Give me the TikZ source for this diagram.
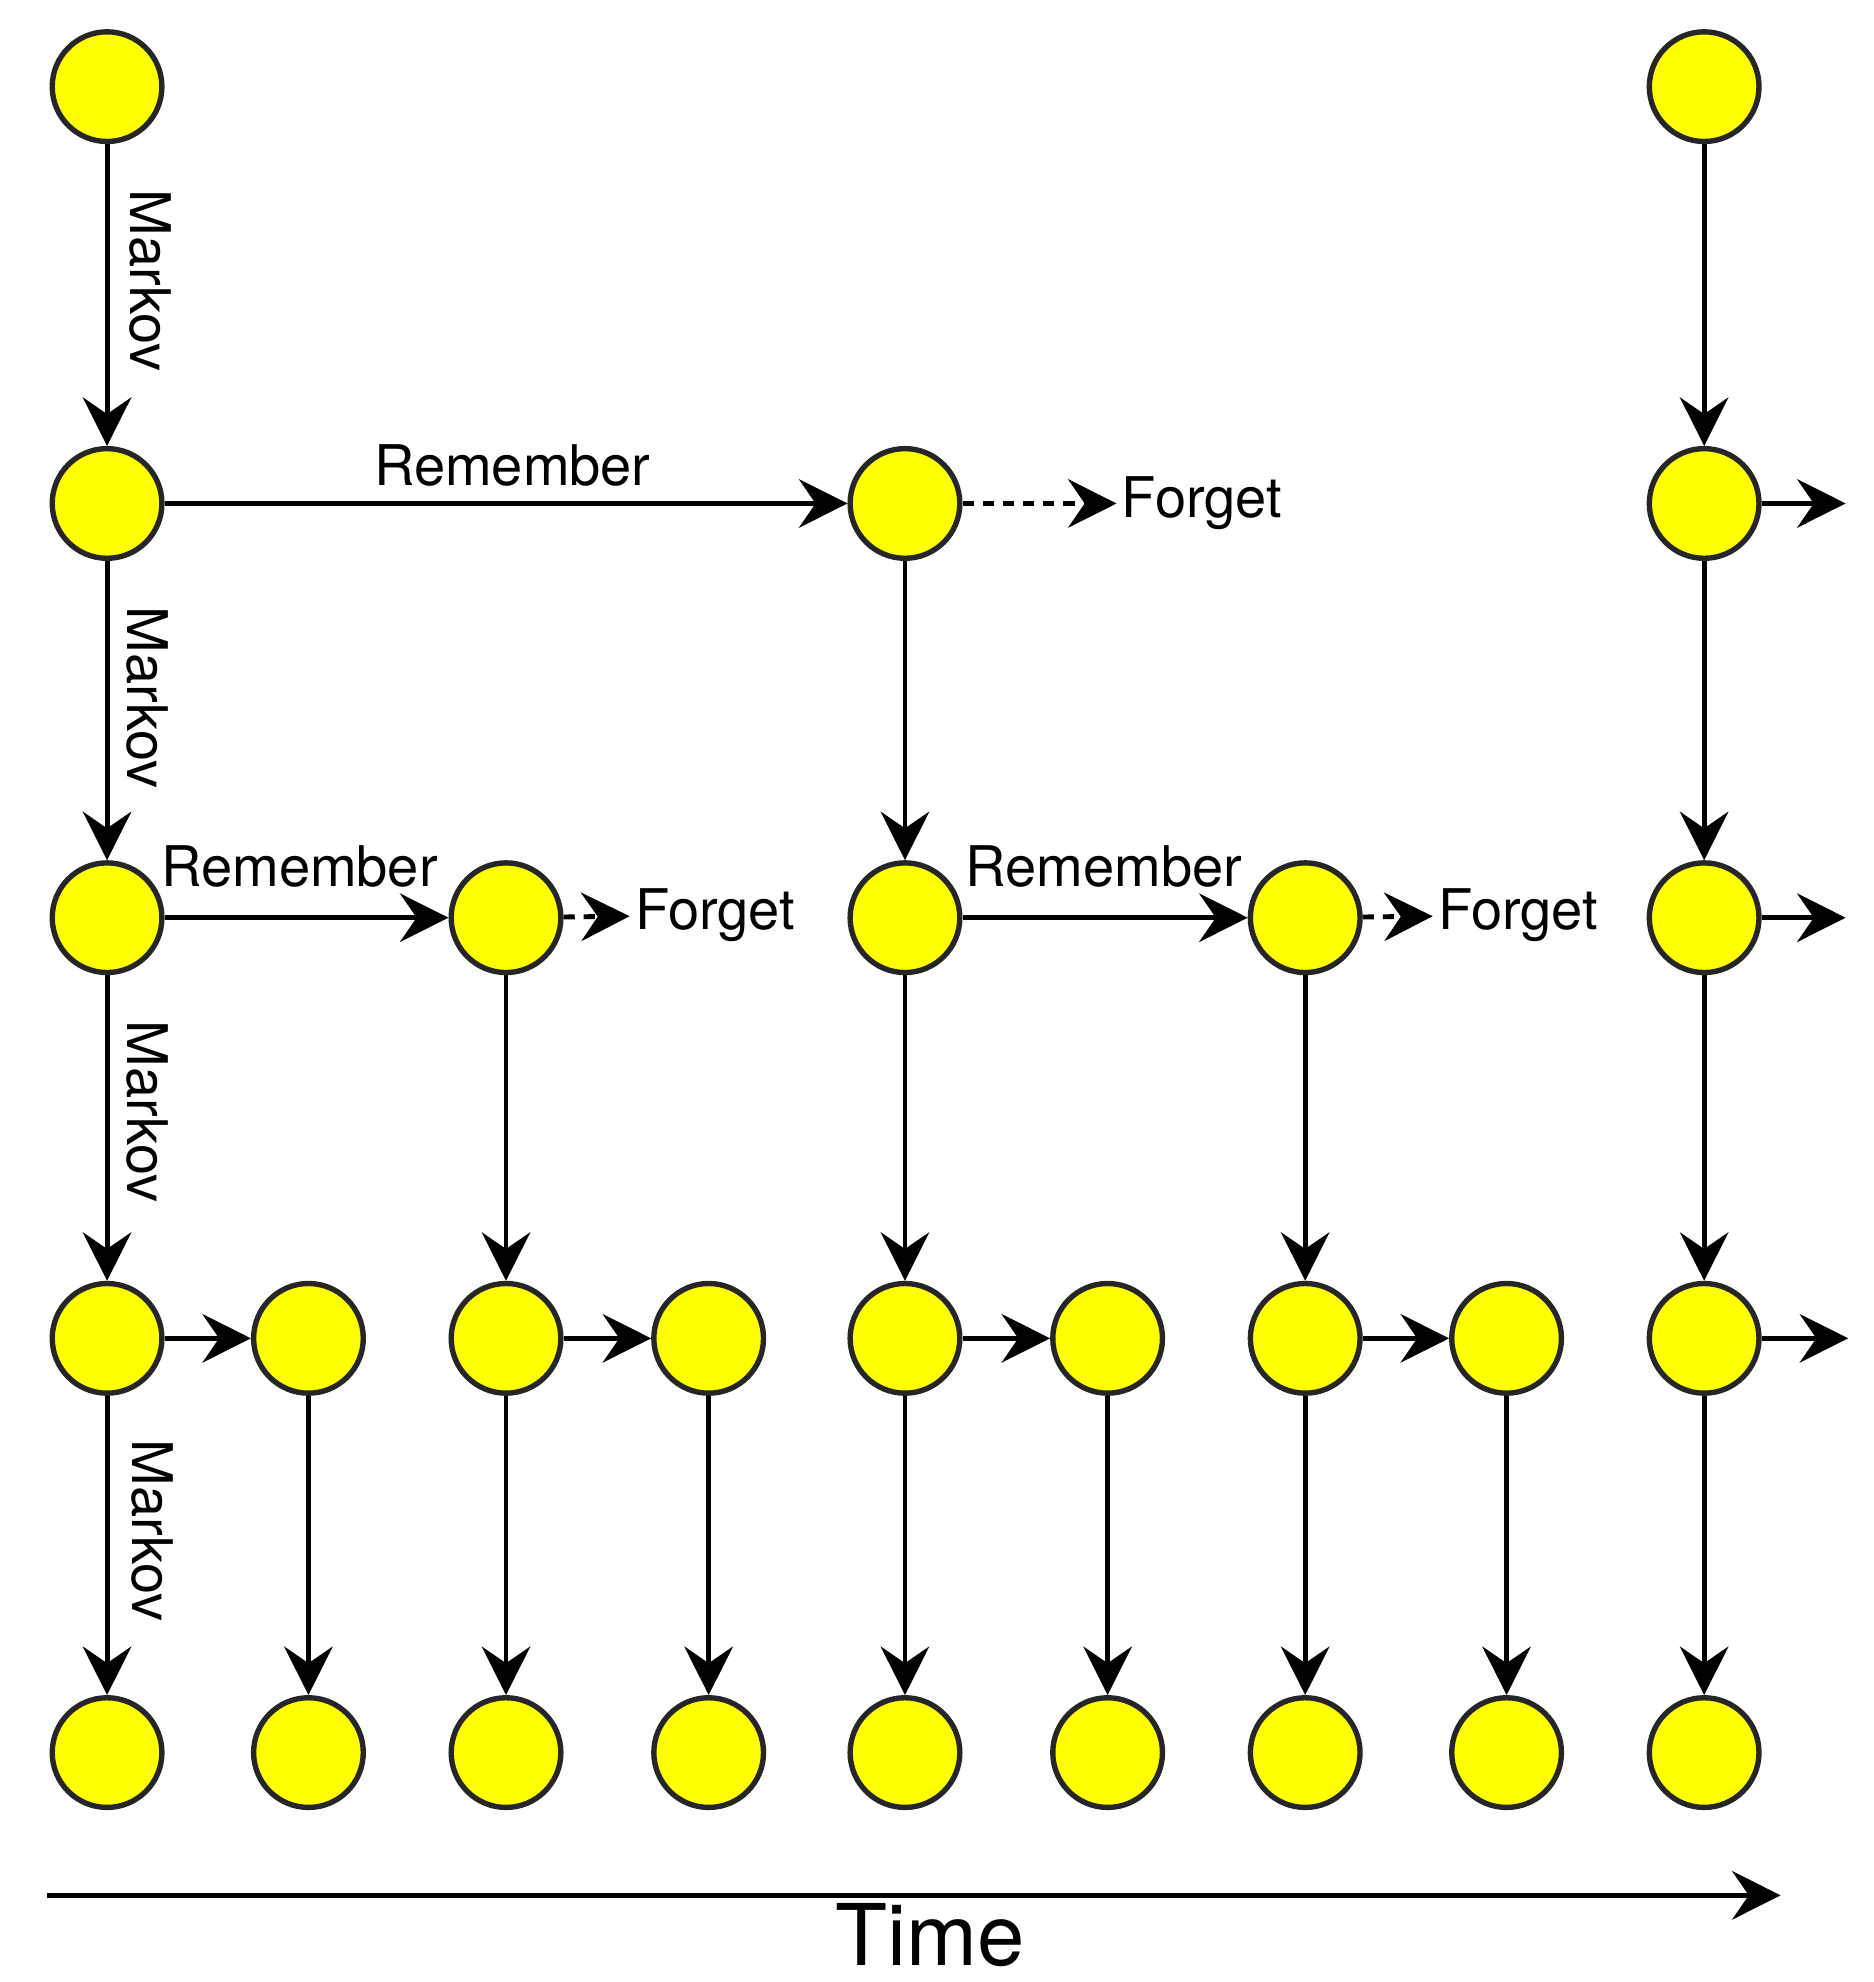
\documentclass[tikz,border=0pt]{standalone}
\usepackage{fontspec}
\setmainfont{TeX Gyre Heros}
\usetikzlibrary{arrows.meta}
\definecolor{nodeyellow}{RGB}{255,255,0}
\tikzset{
  state/.style={circle,draw=black!85,line width=1.2pt,fill=nodeyellow,minimum size=0.86cm,inner sep=0pt},
  flow/.style={line width=1.1pt,-{Stealth[length=0.38cm,width=0.38cm,inset=0.13cm]}},
  forget/.style={flow,dash pattern=on 2.5pt off 2pt},
  lbl/.style={font=\fontsize{12.5}{14}\selectfont,inner sep=1pt},
}
\begin{document}
\begin{tikzpicture}[x=0.01cm,y=-0.01cm]
\useasboundingbox (0,0) rectangle (1470,1555);
% top two rows
\node (a1) [state] at (84,68) {};
\node (e1) [state] at (1337,68) {};
\node (a2) [state] at (84,395) {};
\node (c2) [state] at (710,395) {};
\node (e2) [state] at (1337,395) {};
\node (a3) [state] at (84,720) {};
\node (b3) [state] at (397,720) {};
\node (c3) [state] at (710,720) {};
\node (d3) [state] at (1024,720) {};
\node (e3) [state] at (1337,720) {};
% bottom rows
\foreach \x [count=\i] in {84,242,397,556,710,869,1024,1182,1337} {
  \node (r4-\i) [state] at (\x,1050) {};
  \node (r5-\i) [state] at (\x,1375) {};
  \draw[flow] (r4-\i) -- (r5-\i);
}
\foreach \i/\j in {1/2,3/4,5/6,7/8} \draw[flow] (r4-\i) -- (r4-\j);
% first column
\draw[flow] (a1) -- (a2);
\node[lbl,rotate=-90] at (118,220) {Markov};
\draw[flow] (a2) -- (a3);
\node[lbl,rotate=-90] at (116,547) {Markov};
\draw[flow] (a3) -- (r4-1);
\node[lbl,rotate=-90] at (116,872) {Markov};
\node[lbl,rotate=-90] at (120,1201) {Markov};
% other columns
\draw[flow] (e1) -- (e2);
\draw[flow] (e2) -- (e3);
\draw[flow] (e3) -- (r4-9);
\draw[flow] (c2) -- (c3);
\draw[flow] (c3) -- (r4-5);
\draw[flow] (b3) -- (r4-3);
\draw[flow] (d3) -- (r4-7);
% remember / forget
\draw[flow] (a2) -- (c2);
\node[lbl] at (402,365) {Remember};
\node (f2) [lbl,anchor=west] at (876,395) {Forget};
\draw[forget] (c2) -- (f2);
\draw[flow] (a3) -- (b3);
\node[lbl] at (235,680) {Remember};
\node (f3) [lbl,anchor=west] at (494,718) {Forget};
\draw[forget] (b3) -- (f3);
\draw[flow] (c3) -- (d3);
\node[lbl] at (866,680) {Remember};
\node (f4) [lbl,anchor=west] at (1124,718) {Forget};
\draw[forget] (d3) -- (f4);
% right stubs
\coordinate (s2) at (1448,395);
\coordinate (s3) at (1448,720);
\coordinate (s4) at (1450,1050);
\draw[flow] (e2) -- (s2);
\draw[flow] (e3) -- (s3);
\draw[flow] (r4-9) -- (s4);
% time axis
\coordinate (t0) at (37,1487);
\coordinate (t1) at (1397,1487);
\draw[flow] (t0) -- (t1);
\node[font=\fontsize{19}{21}\selectfont] at (730,1518) {Time};
\end{tikzpicture}
\end{document}
